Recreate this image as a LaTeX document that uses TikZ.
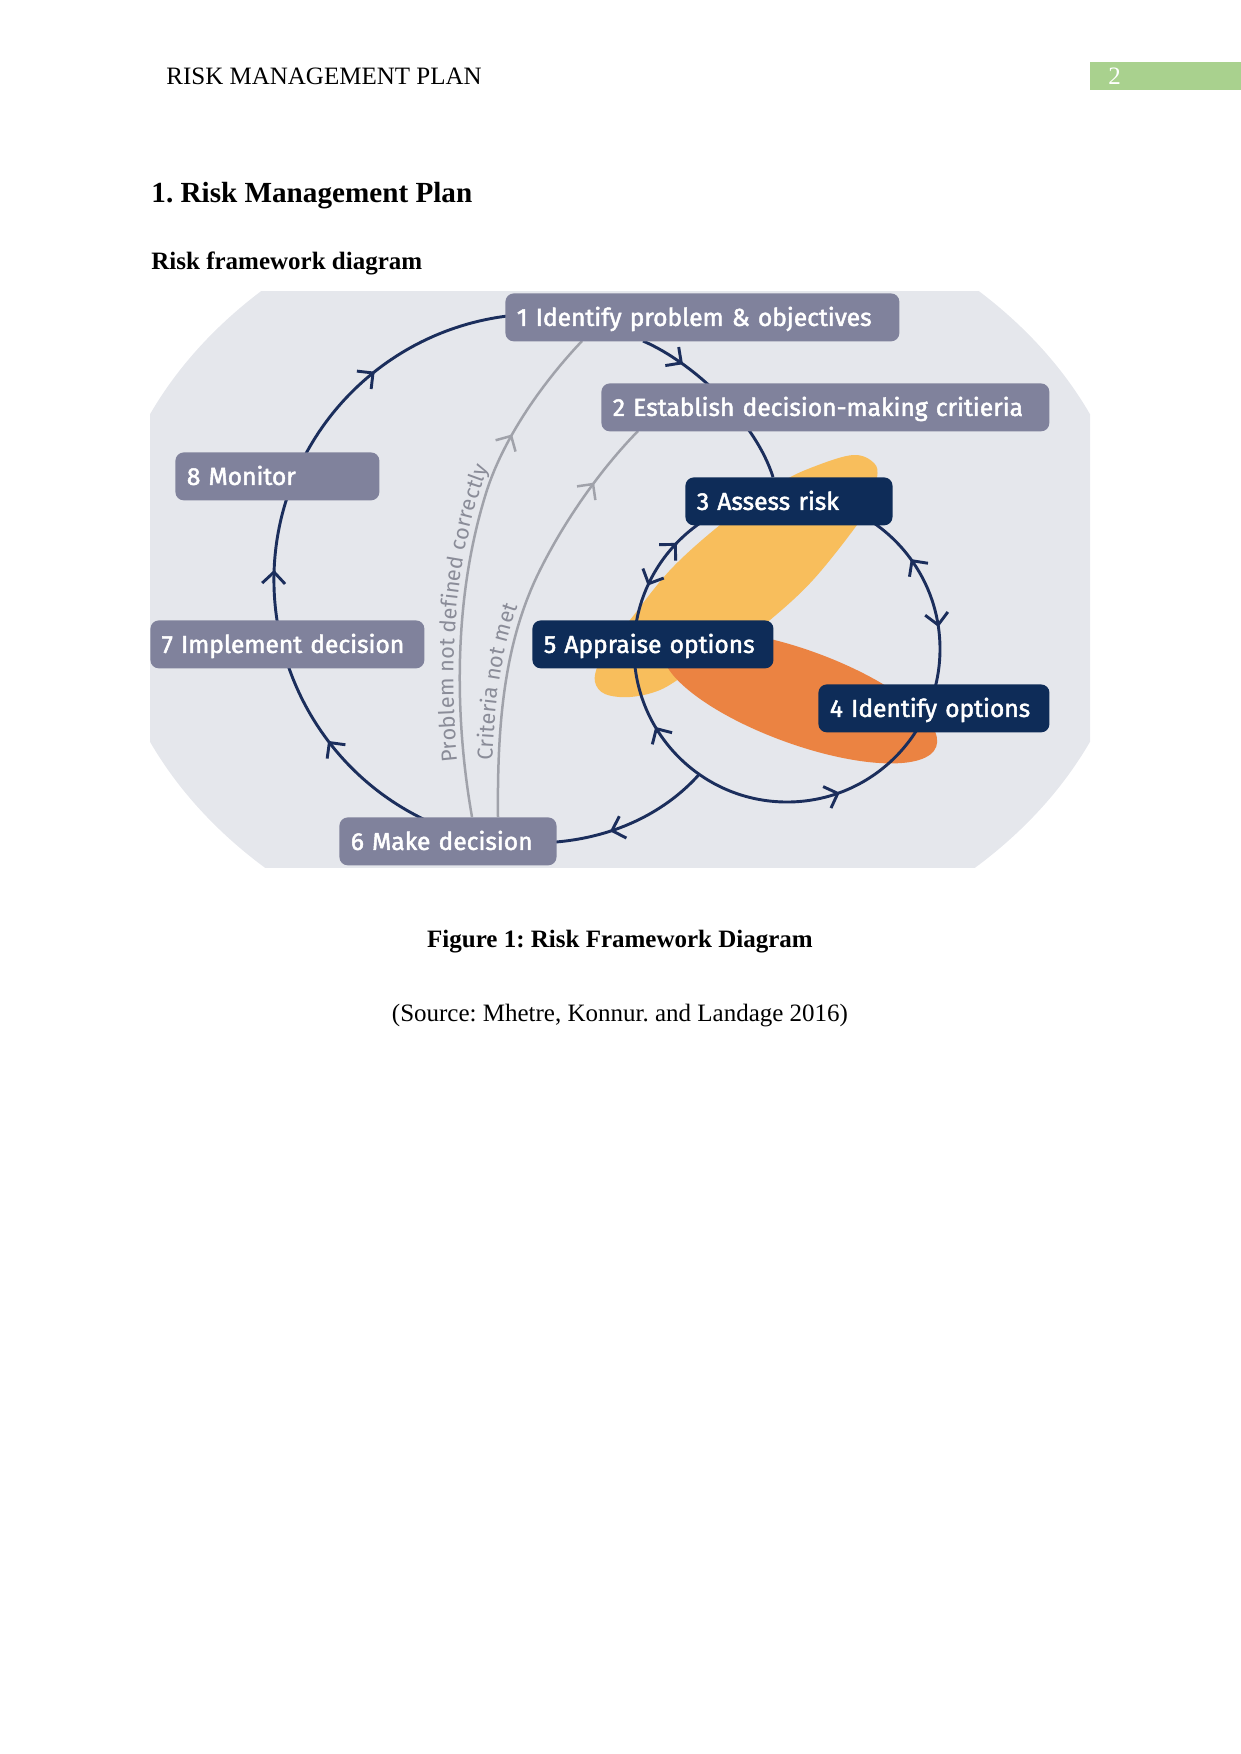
\documentclass[tikz,border=0pt]{standalone}
\usepackage{fontspec}
\setmainfont{Liberation Serif}
\newfontfamily\labfont{Fira Sans}[FakeBold=2]
\newfontfamily\glabfont{Fira Sans}
\usetikzlibrary{arrows.meta,decorations.markings,decorations.text}
\pgfdeclarelayer{back}
\pgfdeclarelayer{lines}
\pgfsetlayers{back,lines,main}
\definecolor{bgc}{RGB}{229,231,236}
\definecolor{boxgrey}{RGB}{128,130,156}
\definecolor{navy}{RGB}{14,44,88}
\definecolor{navyline}{RGB}{27,46,92}
\definecolor{greyline}{RGB}{160,162,170}
\definecolor{greytext}{RGB}{138,140,152}
\definecolor{orangeL}{RGB}{248,190,92}
\definecolor{orangeD}{RGB}{235,131,66}
\definecolor{pagegreen}{RGB}{169,209,142}
\newcommand\lblfont{\labfont\fontsize{11.8}{14}\selectfont}
\newcommand\glab{\glabfont\fontsize{10.4}{12}\selectfont}
\tikzset{
  chev/.tip={Straight Barb[length=5.5pt,width=11pt]},
  pagetext/.style={inner sep=0pt, font=\fontsize{12}{14}\selectfont},
  lbl/.style={rectangle, rounded corners=4pt, minimum height=23pt,
    inner xsep=5.5pt, inner ysep=0pt, anchor=north west, align=left,
    text=white, font=\lblfont, text height=9pt, text depth=0.8pt},
  greybox/.style={lbl, fill=boxgrey},
  navybox/.style={lbl, fill=navy},
  loopline/.style={draw=navyline, line width=1.4pt},
  backline/.style={draw=greyline, line width=1.2pt},
}
\begin{document}
\frenchspacing
\begin{tikzpicture}[x=0.48pt, y=-0.48pt]
\useasboundingbox (0,0) rectangle (1241,1754);

% page header and texts
\node[pagetext, anchor=base west] (hd) at (166,84) {RISK MANAGEMENT PLAN};
\node[fill=pagegreen, inner sep=0pt, minimum width=72.5pt, minimum height=13.4pt, anchor=north west] (pg) at (1090,62) {};
\node[pagetext, anchor=base west, text=white] (pgn) at (1108,84) {2};
\node[inner sep=0pt, anchor=base west, font=\bfseries\fontsize{14}{16}\selectfont] (t1) at (151,202) {1. Risk Management Plan};
\node[inner sep=0pt, anchor=base west, font=\bfseries\fontsize{12}{14}\selectfont] (t2) at (151,269) {Risk framework diagram};
\node[inner sep=0pt, anchor=base, font=\bfseries\fontsize{12}{14}\selectfont] (cap) at (620,947) {Figure 1: Risk Framework Diagram};
\node[pagetext, anchor=base] (src) at (620,1021) {(Source: Mhetre, Konnur. and Landage 2016)};

% background and blobs
\begin{pgfonlayer}{back}
  \begin{scope}
    \clip (150,291) rectangle (1090,867);
    \fill[bgc] (620,578) ellipse [x radius=515, y radius=400];
  \end{scope}
  \fill[orangeL] plot[smooth cycle, tension=0.6] coordinates {
    (853,455) (874,463) (877,478) (868,505) (857,525) (813,580) (770,620)
    (730,650) (690,672) (660,690) (630,697) (605,694) (595,682) (598,665)
    (610,645) (630,620) (673,567) (730,517) (780,483) (813,467)};
  \fill[orangeD, rotate around={-20:(800,697)}] (800,697) ellipse [x radius=145, y radius=47];
\end{pgfonlayer}

% boxes
\node[greybox, text width=178.1pt] (n1) at (505,293) {1 Identify problem \& objectives};
\node[greybox, text width=204pt] (n2) at (601,383) {2 Establish decision-making critieria};
\node[navybox, text width=88.4pt] (n3) at (685,477) {3 Assess risk};
\node[navybox, text width=99.9pt] (n4) at (818,684) {4 Identify options};
\node[navybox, text width=104.7pt] (n5) at (532,620) {5 Appraise options};
\node[greybox, text width=93.2pt] (n6) at (339,817) {6 Make decision};
\node[greybox, text width=120.5pt] (n7) at (150,620) {7 Implement decision};
\node[greybox, text width=86.9pt] (n8) at (175,452) {8 Monitor};

\coordinate (BC) at (540,580);
\coordinate (SC) at (787,649);
\coordinate (j) at (699.2,774.3);
\coordinate (p12) at (643,341);
\coordinate (p23) at (773,477);
\coordinate (p6) at (556,842);
\coordinate (g6a) at (472,817);
\coordinate (g1) at (582,341);
\coordinate (g6b) at (498,817);
\coordinate (g2) at (638,431);

% connectors
\begin{pgfonlayer}{lines}
  % 6 -> 7 -> 8 -> 1
  \draw[loopline, postaction=decorate, decoration={markings,
      mark=at position 0.196 with {\arrow{chev}},
      mark=at position 0.455 with {\arrow{chev}},
      mark=at position 0.78 with {\arrow{chev}}}]
    (BC) ++(113:266) arc[start angle=113, end angle=265, radius=266];
  % 1 -> 2 -> 3
  \draw[loopline, postaction=decorate, decoration={markings,
      mark=at position 0.24 with {\arrow{chev}}}]
    (p12) .. controls (692,362) and (755,420) .. (p23);
  % small loop 3-4-5
  \draw[loopline, postaction=decorate, decoration={markings,
      mark=at position 0.194 with {\arrowreversed{chev}},
      mark=at position 0.415 with {\arrow{chev}},
      mark=at position 0.568 with {\arrowreversed{chev}},
      mark=at position 0.622 with {\arrow{chev}},
      mark=at position 0.9 with {\arrowreversed{chev}},
      mark=at position 0.977 with {\arrow{chev}}}]
    (SC) ++(0:153) arc[start angle=0, end angle=360, radius=153];
  % junction -> 6
  \draw[loopline, postaction=decorate, decoration={markings,
      mark=at position 0.66 with {\arrow{chev}}}]
    (j) .. controls (672,805) and (625,836) .. (p6);
  % grey feedback lines
  \draw[backline, postaction=decorate, decoration={markings,
      mark=at position 0.77 with {\arrow{chev}}}]
    (g6a) .. controls (455,720) and (452,600) .. (487,490)
          .. controls (505,435) and (545,380) .. (g1);
  \draw[backline, postaction=decorate, decoration={markings,
      mark=at position 0.84 with {\arrow{chev}}}]
    (g6b) .. controls (497,720) and (505,640) .. (540,570)
          .. controls (565,520) and (600,470) .. (g2);
  \path[decorate, decoration={text along path, text color=greytext,
      text={|\glab|Problem not defined correctly},
      text align={left, left indent=27pt}, raise=3pt}]
    (g6a) .. controls (455,720) and (452,600) .. (487,490)
          .. controls (505,435) and (545,380) .. (g1);
  \path[decorate, decoration={text along path, text color=greytext,
      text={|\glab|Criteria not met},
      text align={left, left indent=27pt}, raise=3pt}]
    (g6b) .. controls (497,720) and (505,640) .. (540,570)
          .. controls (565,520) and (600,470) .. (g2);
\end{pgfonlayer}
\end{tikzpicture}
\end{document}
